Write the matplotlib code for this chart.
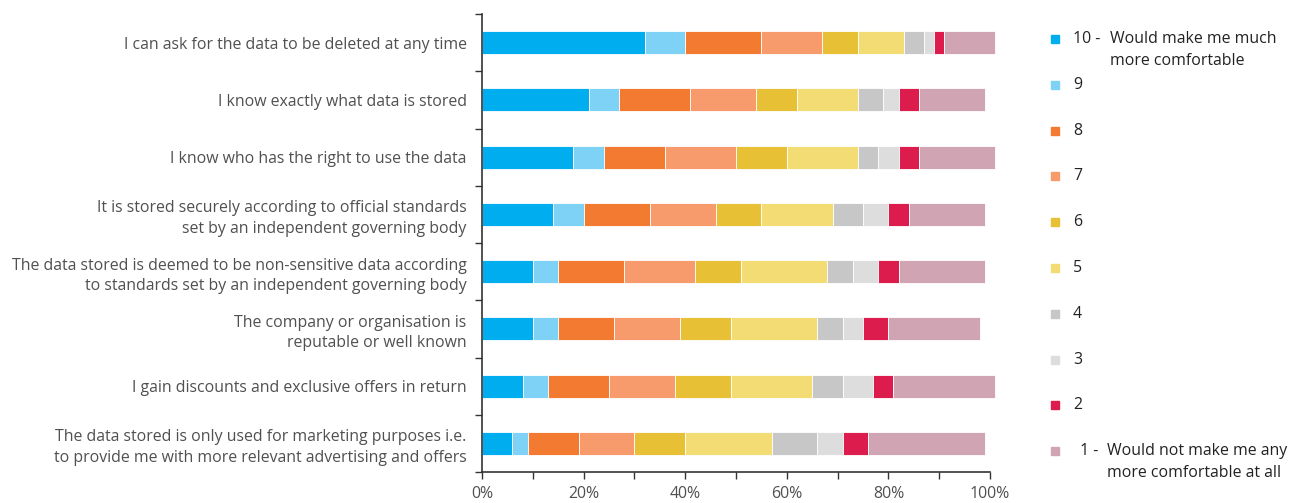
"""Stacked horizontal bars: what would make people more comfortable sharing data."""

import matplotlib.pyplot as plt
import numpy as np
from matplotlib.patches import Rectangle
from matplotlib.ticker import FuncFormatter, MultipleLocator

plt.rcParams["font.family"] = ["Open Sans", "DejaVu Sans"]

STATEMENTS = [
    "I can ask for the data to be deleted at any time",
    "I know exactly what data is stored",
    "I know who has the right to use the data",
    "It is stored securely according to official standards\nset by an independent governing body",
    "The data stored is deemed to be non-sensitive data according\nto standards set by an independent governing body",
    "The company or organisation is\nreputable or well known",
    "I gain discounts and exclusive offers in return",
    "The data stored is only used for marketing purposes i.e.\nto provide me with more relevant advertising and offers",
]

SCORES = ["10", "9", "8", "7", "6", "5", "4", "3", "2", "1"]

# percentage of respondents per score, one list per statement (score 10 first)
SCORE_10 = [32, 21, 18, 14, 10, 10, 8, 6]
SCORE_9 = [8, 6, 6, 6, 5, 5, 5, 3]
SCORE_8 = [15, 14, 12, 13, 13, 11, 12, 10]
SCORE_7 = [12, 13, 14, 13, 14, 13, 13, 11]
SCORE_6 = [7, 8, 10, 9, 9, 10, 11, 10]
SCORE_5 = [9, 12, 14, 14, 17, 17, 16, 17]
SCORE_4 = [4, 5, 4, 6, 5, 5, 6, 9]
SCORE_3 = [2, 3, 4, 5, 5, 4, 6, 5]
SCORE_2 = [2, 4, 4, 4, 4, 5, 4, 5]
SCORE_1 = [10, 13, 15, 15, 17, 18, 20, 23]

SERIES = [SCORE_10, SCORE_9, SCORE_8, SCORE_7, SCORE_6,
          SCORE_5, SCORE_4, SCORE_3, SCORE_2, SCORE_1]

COLORS = ["#00aeef", "#7dd2f6", "#f37a31", "#f79a6c", "#e8c035",
          "#f4dc74", "#c6c7c6", "#dcdddc", "#dc1c4d", "#d1a4b3"]

LEGEND_TEXT = {
    "10": ["Would make me much", "more comfortable"],
    "1": ["Would not make me any", "more comfortable at all"],
}

TEXT_GREY = "#505050"
FS = 11.4

fig = plt.figure(figsize=(13.03, 5.03), dpi=100)
W, H = 1303, 503
ax = fig.add_axes([482 / W, 1 - 472 / H, (990 - 482) / W, (472 - 14) / H])

y = np.arange(len(STATEMENTS))
left = np.zeros(len(STATEMENTS))
for values, color in zip(SERIES, COLORS):
    ax.barh(y, values, left=left, height=0.4, color=color,
            edgecolor="white", linewidth=0.6, clip_on=False)
    left += np.asarray(values)

ax.set_xlim(0, 100)
ax.set_ylim(len(STATEMENTS) - 0.5, -0.5)

ax.set_yticks(y)
ax.set_yticklabels(STATEMENTS, fontsize=FS, color=TEXT_GREY,
                   linespacing=1.35)
ax.set_yticks(np.arange(len(STATEMENTS) + 1) - 0.5, minor=True)
ax.tick_params(axis="y", which="major", length=0, pad=11)
ax.tick_params(axis="y", which="minor", length=5, width=1, color="#333333")

ax.xaxis.set_major_locator(MultipleLocator(20))
ax.xaxis.set_minor_locator(MultipleLocator(10))
ax.xaxis.set_major_formatter(FuncFormatter(lambda v, _: f"{v:.0f}%"))
ax.tick_params(axis="x", which="both", length=5, width=1, color="#333333",
               labelsize=FS, labelcolor=TEXT_GREY, pad=5)

for side in ("top", "right"):
    ax.spines[side].set_visible(False)
for side in ("left", "bottom"):
    ax.spines[side].set_color("#333333")
    ax.spines[side].set_linewidth(1.2)

# legend drawn by hand so the two-line labels sit like the original
row_y = 39
for score, color in zip(SCORES, COLORS):
    fy = 1 - row_y / H
    fig.add_artist(Rectangle((1051 / W, fy - 4 / H), 8 / W, 8 / H,
                             transform=fig.transFigure, color=color))
    num = f"{score} -" if score in LEGEND_TEXT else score
    num_x = 1073 if score != "1" else 1080
    fig.text(num_x / W, fy, num, fontsize=FS, color="#222222",
             va="center", ha="left")
    if score in LEGEND_TEXT:
        desc_x = 1110 if score == "10" else 1107
        for k, line in enumerate(LEGEND_TEXT[score]):
            fig.text(desc_x / W, fy - k * 22 / H, line, fontsize=FS,
                     color="#222222", va="center", ha="left")
    row_y += 45.8

fig.savefig("out.png", dpi=100)
